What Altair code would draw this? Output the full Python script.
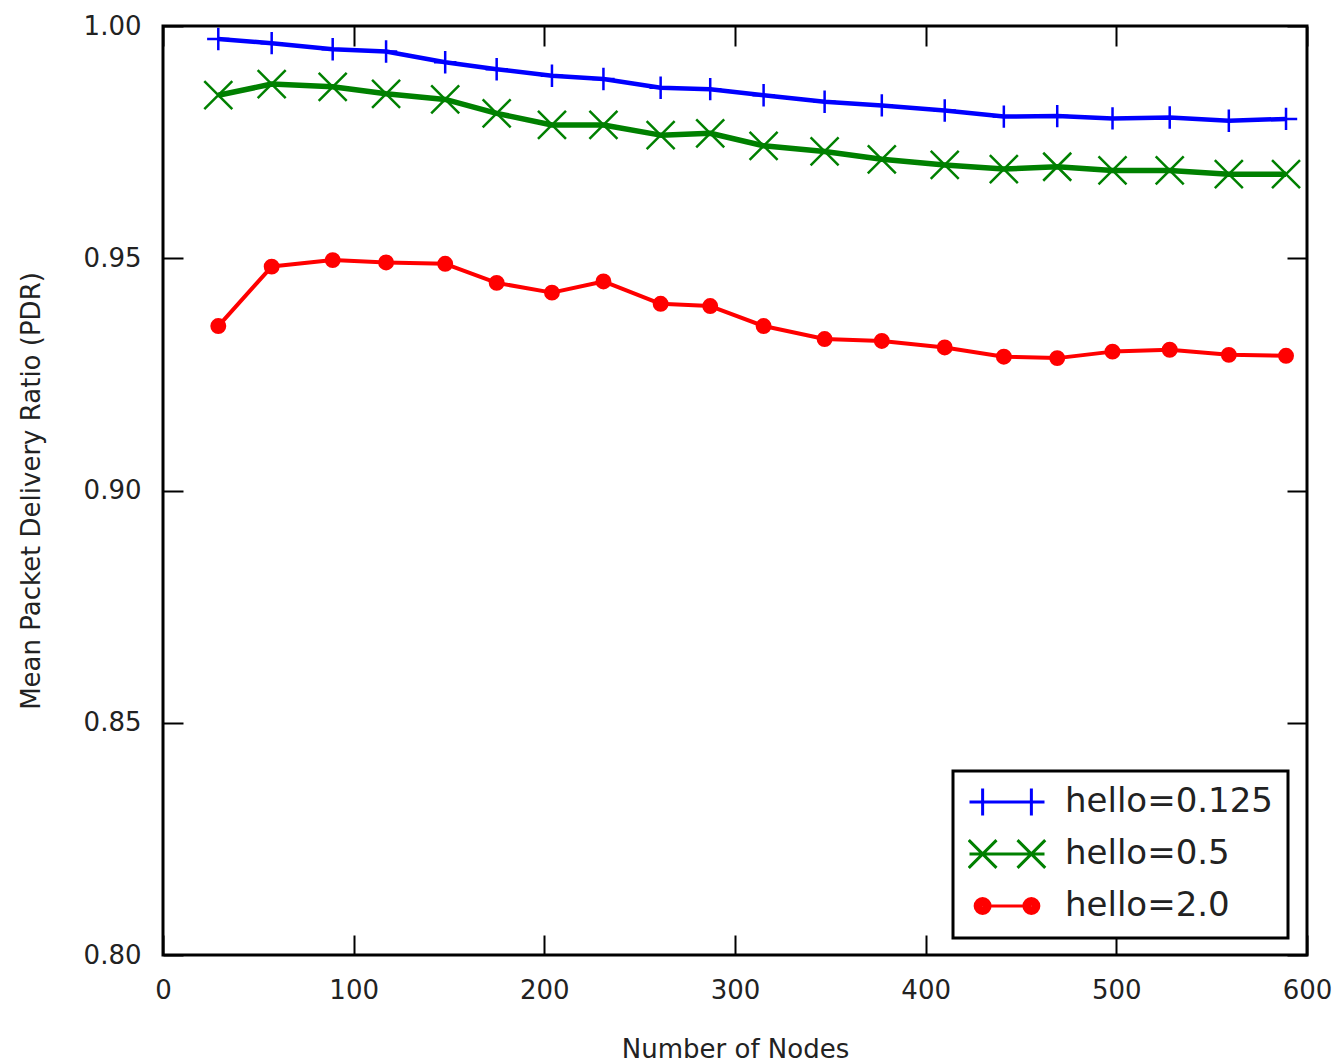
import altair as alt
import pandas as pd

# ---------------- data ----------------
nodes = [29, 57, 89, 117, 148, 175, 204, 231, 261, 287,
         315, 347, 377, 410, 441, 469, 498, 528, 559, 589]
pdr_hello_0125 = [0.9972, 0.9963, 0.9950, 0.9945, 0.9922, 0.9907, 0.9893, 0.9886, 0.9867, 0.9864,
                  0.9851, 0.9837, 0.9829, 0.9818, 0.9805, 0.9806, 0.9801, 0.9803, 0.9796, 0.9800]
pdr_hello_05 = [0.9851, 0.9875, 0.9869, 0.9854, 0.9842, 0.9812, 0.9787, 0.9787, 0.9765, 0.9769,
                0.9742, 0.9730, 0.9713, 0.9701, 0.9692, 0.9697, 0.9689, 0.9689, 0.9681, 0.9681]
pdr_hello_20 = [0.9354, 0.9482, 0.9496, 0.9491, 0.9488, 0.9447, 0.9426, 0.9450, 0.9402, 0.9397,
                0.9354, 0.9326, 0.9322, 0.9308, 0.9288, 0.9285, 0.9299, 0.9303, 0.9292, 0.9290]
series_names = ["hello=0.125", "hello=0.5", "hello=2.0"]
series_colors = ["#0000ff", "#008000", "#ff0000"]
x_ticks = [0, 100, 200, 300, 400, 500, 600]
y_ticks = [0.80, 0.85, 0.90, 0.95, 1.00]

rows = []
for name, vals in zip(series_names, [pdr_hello_0125, pdr_hello_05, pdr_hello_20]):
    for n, v in zip(nodes, vals):
        rows.append({"nodes": n, "pdr": v, "series": name})
df = pd.DataFrame(rows)

FONT = "DejaVu Sans"
TXT = "#222222"

x_scale = alt.Scale(domain=[0, 600], nice=False, zero=False)
y_scale = alt.Scale(domain=[0.80, 1.00], nice=False, zero=False)
color_scale = alt.Scale(domain=series_names, range=series_colors)

# marker glyphs
PLUS = "M-1,0L1,0M0,-1L0,1"
XMARK = "M-1,-1L1,1M-1,1L1,-1"


def disk(cx):
    parts = []
    for r in [0.01, 0.05, 0.09, 0.13, 0.17, 0.20]:
        parts.append(f"M{cx - r:.3f},0A{r},{r},0,1,0,{cx + r:.3f},0A{r},{r},0,1,0,{cx - r:.3f},0")
    return "".join(parts)


h = 0.36
leg_blue = f"M-1,0L1,0M-0.65,-{h}L-0.65,{h}M0.65,-{h}L0.65,{h}"
a = 0.37
leg_green = ("M-1,0L1,0"
             f"M{-0.65 - a:.2f},{-a}L{-0.65 + a:.2f},{a}M{-0.65 - a:.2f},{a}L{-0.65 + a:.2f},{-a}"
             f"M{0.65 - a:.2f},{-a}L{0.65 + a:.2f},{a}M{0.65 - a:.2f},{a}L{0.65 + a:.2f},{-a}")
leg_red = "M-0.65,0L0.65,0" + disk(-0.65) + disk(0.65)
legend_paths = [leg_blue, leg_green, leg_red]

common_axis = dict(
    domain=False, grid=False, tickColor="black", tickWidth=2, tickSize=20, offset=-20,
    labelFont=FONT, labelFontSize=26, labelColor=TXT, labelFlush=False, labelOverlap=False,
    titleFont=FONT, titleFontSize=26, titleColor=TXT, titleFontWeight="normal",
)

x_bottom = alt.Axis(orient="bottom", values=x_ticks, format="d", labelPadding=22,
                    title="Number of Nodes", titlePadding=33, **common_axis)
y_left = alt.Axis(orient="left", values=y_ticks, format=".2f", labelPadding=22,
                  title="Mean Packet Delivery Ratio (PDR)", titlePadding=39, **common_axis)
x_top = alt.Axis(orient="top", values=x_ticks, labels=False, title=None, **common_axis)
y_right = alt.Axis(orient="right", values=y_ticks, labels=False, title=None, **common_axis)

base = alt.Chart(df)


def series_line(i, width, x_axis=None, y_axis=None):
    return base.transform_filter(alt.datum.series == series_names[i]).mark_line(
        strokeJoin="round", strokeWidth=width, color=series_colors[i]
    ).encode(
        x=alt.X("nodes:Q", scale=x_scale, axis=x_axis),
        y=alt.Y("pdr:Q", scale=y_scale, axis=y_axis),
    )


line_blue = series_line(0, 4.5, x_bottom, y_left)
line_green = series_line(1, 5.5)
line_red = series_line(2, 4)

blue_pts = base.transform_filter(alt.datum.series == series_names[0]).mark_point(
    shape=PLUS, size=500, filled=False, strokeWidth=2.5, opacity=1, color=series_colors[0]
).encode(
    x=alt.X("nodes:Q", scale=x_scale, axis=None),
    y=alt.Y("pdr:Q", scale=y_scale, axis=None),
)

green_pts = base.transform_filter(alt.datum.series == series_names[1]).mark_point(
    shape=XMARK, size=784, filled=False, strokeWidth=2.5, opacity=1, color=series_colors[1]
).encode(
    x=alt.X("nodes:Q", scale=x_scale, axis=None),
    y=alt.Y("pdr:Q", scale=y_scale, axis=None),
)

red_pts = base.transform_filter(alt.datum.series == series_names[2]).mark_circle(
    size=254, opacity=1, color=series_colors[2]
).encode(
    x=alt.X("nodes:Q", scale=x_scale, axis=x_top),
    y=alt.Y("pdr:Q", scale=y_scale, axis=y_right),
)

leg = alt.Legend(
    title=None, orient="none", legendX=790, legendY=745, direction="vertical",
    symbolSize=5625, symbolStrokeWidth=3, symbolOpacity=1,
    labelFont=FONT, labelFontSize=34, labelColor=TXT, labelOffset=19, labelLimit=400,
    padding=15, rowPadding=18, clipHeight=32,
    strokeColor="black", fillColor="white", cornerRadius=0,
)

legend_layer = base.transform_filter("datum.pdr < 0").mark_point(
    filled=False, opacity=1, strokeWidth=3
).encode(
    x=alt.X("nodes:Q", scale=x_scale, axis=None),
    y=alt.Y("pdr:Q", scale=y_scale, axis=None),
    color=alt.Color("series:N", scale=color_scale, legend=leg),
    shape=alt.Shape("series:N", scale=alt.Scale(domain=series_names, range=legend_paths), legend=leg),
)

chart = (
    alt.layer(line_blue, line_green, line_red, blue_pts, green_pts, red_pts, legend_layer)
    .resolve_axis(x="independent", y="independent")
    .properties(
        width=1144, height=929,
        autosize=alt.AutoSizeParams(type="none"),
        padding={"left": 163, "top": 26, "right": 31, "bottom": 109},
        background="white",
    )
    .configure_view(stroke="black", strokeWidth=3)
    .configure_legend(strokeWidth=3)
)

chart.save("out.html", embed_options={"renderer": "svg", "actions": False})
